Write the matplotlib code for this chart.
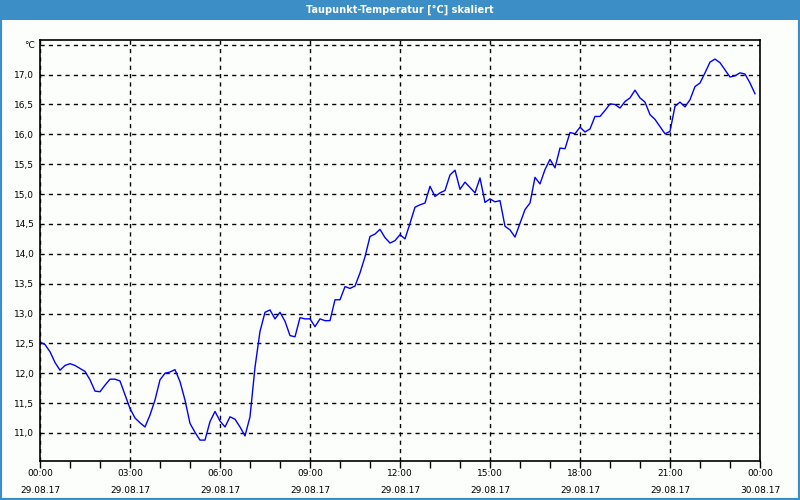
import numpy as np
import matplotlib.pyplot as plt
from matplotlib.patches import Rectangle

# Taupunkt values, one every 10 minutes from 29.08.17 00:00
dewpoint = [
    12.52, 12.48, 12.36, 12.18, 12.05, 12.13, 12.16, 12.13, 12.08, 12.03,
    11.89, 11.70, 11.69, 11.80, 11.90, 11.90, 11.87, 11.64, 11.41, 11.25,
    11.17, 11.10, 11.30, 11.55, 11.89, 12.00, 12.02, 12.06, 11.86, 11.55,
    11.16, 11.01, 10.88, 10.88, 11.19, 11.36, 11.20, 11.10, 11.27, 11.23,
    11.10, 10.95, 11.27, 12.10, 12.70, 13.02, 13.06, 12.91, 13.02, 12.87,
    12.63, 12.61, 12.93, 12.91, 12.91, 12.78, 12.91, 12.88, 12.88, 13.23,
    13.23, 13.45, 13.42, 13.46, 13.68, 13.95, 14.29, 14.33, 14.41, 14.27,
    14.18, 14.22, 14.32, 14.25, 14.51, 14.78, 14.82, 14.85, 15.13, 14.96,
    15.02, 15.06, 15.32, 15.40, 15.08, 15.20, 15.11, 15.02, 15.27, 14.86,
    14.92, 14.87, 14.89, 14.46, 14.40, 14.28, 14.51, 14.74, 14.85, 15.28,
    15.17, 15.41, 15.58, 15.44, 15.77, 15.76, 16.03, 16.01, 16.12, 16.04,
    16.09, 16.30, 16.30, 16.40, 16.51, 16.50, 16.44, 16.55, 16.61, 16.74,
    16.61, 16.54, 16.33, 16.25, 16.13, 16.01, 16.05, 16.47, 16.54, 16.46,
    16.58, 16.80, 16.86, 17.03, 17.21, 17.26, 17.20, 17.08, 16.96, 16.98,
    17.03, 17.01, 16.86, 16.68,
]
step_min = 10
hours = np.arange(len(dewpoint)) * step_min / 60.0

y_ticks = [11.0, 11.5, 12.0, 12.5, 13.0, 13.5, 14.0, 14.5, 15.0, 15.5,
           16.0, 16.5, 17.0, 17.5]
y_labels = ['11,0', '11,5', '12,0', '12,5', '13,0', '13,5', '14,0', '14,5',
            '15,0', '15,5', '16,0', '16,5', '17,0', '°C']
x_ticks = [0, 3, 6, 9, 12, 15, 18, 21, 24]
x_labels = ['00:00\n29.08.17', '03:00\n29.08.17', '06:00\n29.08.17',
            '09:00\n29.08.17', '12:00\n29.08.17', '15:00\n29.08.17',
            '18:00\n29.08.17', '21:00\n29.08.17', '00:00\n30.08.17']

title = 'Taupunkt-Temperatur [°C] skaliert'
bar_blue = '#3b8fc6'

fig = plt.figure(figsize=(8, 5), dpi=100, facecolor='#fcfefc')

# window frame and title bar
fig.patches.append(Rectangle((0, 0), 1, 1, transform=fig.transFigure,
                             facecolor='none', edgecolor=bar_blue, lw=3))
fig.patches.append(Rectangle((0, 0.96), 1, 0.04, transform=fig.transFigure,
                             facecolor=bar_blue, edgecolor='none'))
fig.text(0.5, 0.98, title, color='white', ha='center', va='center',
         fontsize=7, fontweight='bold')

ax = fig.add_axes([0.05, 0.078, 0.9, 0.842])
ax.set_facecolor('#fcfefc')
ax.plot(hours, dewpoint, color='#0000ff', lw=1)

ax.set_xlim(0, 24)
ax.set_ylim(10.53, 17.58)
ax.set_xticks(x_ticks)
ax.set_xticklabels(x_labels, fontsize=6.5, linespacing=2.1)
ax.set_xticks(range(25), minor=True)
ax.set_yticks(y_ticks)
ax.set_yticklabels(y_labels, fontsize=6.5)

ax.tick_params(axis='x', which='both', direction='out', length=5,
               width=1, color='black', pad=1)
ax.tick_params(axis='y', length=0, pad=4)

ax.grid(True, which='major', color='black', linestyle=(0, (3, 3)), lw=1)
for s in ax.spines.values():
    s.set_color('black')
    s.set_linewidth(1.2)

fig.savefig('out.png', dpi=100, facecolor=fig.get_facecolor())
